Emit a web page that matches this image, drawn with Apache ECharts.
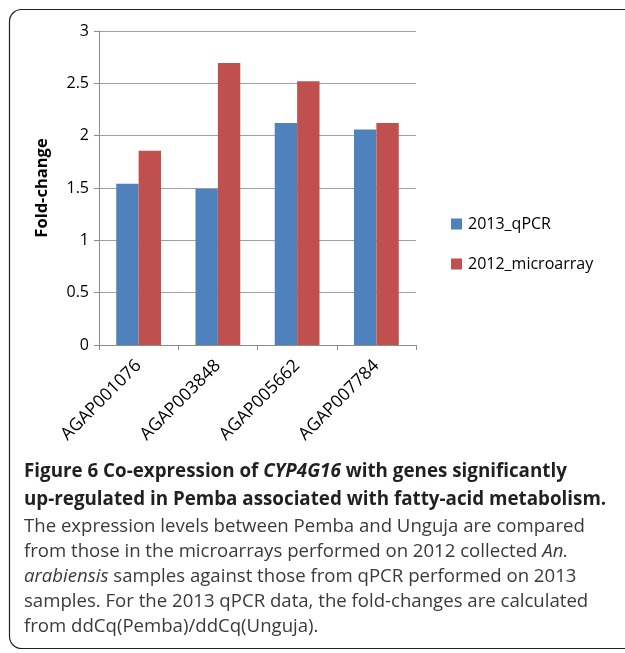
<!DOCTYPE html>
<html><head><meta charset="utf-8">
<script src="https://cdn.jsdelivr.net/npm/echarts@6/dist/echarts.min.js"></script>
<style>html,body{margin:0;padding:0;background:#fff}#c{width:625px;height:653px}</style>
</head><body><div id="c"></div>
<script>
const categories = ['AGAP001076', 'AGAP003848', 'AGAP005662', 'AGAP007784'];
const qpcr2013 = [1.54, 1.49, 2.12, 2.06];
const microarray2012 = [1.855, 2.695, 2.52, 2.12];
const seriesNames = ['2013_qPCR', '2012_microarray'];
const yTicks = [0, 0.5, 1, 1.5, 2, 2.5, 3];

const chart = echarts.init(document.getElementById('c'), null, {renderer: 'canvas'});
const F = 'Open Sans, Liberation Sans, sans-serif';
const capX = 24;
const BS = 18.8, NS = 18.6;
const capLines = [
  {base: 478, sz: BS, parts: [['b','Figure 6 Co-expression of '],['bi','CYP4G16'],['b',' with genes significantly']]},
  {base: 506, sz: BS, parts: [['b','up-regulated in Pemba associated with fatty-acid metabolism.']]},
  {base: 533, sz: NS, parts: [['n','The expression levels between Pemba and Unguja are compared']]},
  {base: 558, sz: NS, parts: [['n','from those in the microarrays performed on 2012 collected '],['i','An.']]},
  {base: 583, sz: NS, parts: [['i','arabiensis'],['n',' samples against those from qPCR performed on 2013']]},
  {base: 608, sz: NS, parts: [['n','samples. For the 2013 qPCR data, the fold-changes are calculated']]},
  {base: 633, sz: NS, parts: [['n','from ddCq(Pemba)/ddCq(Unguja).']]}
];
const rich = {
  b: {fontFamily: F, fontSize: BS, lineHeight: BS, fontWeight: 'bold', fill: '#231f20'},
  bi: {fontFamily: F, fontSize: BS, lineHeight: BS, fontWeight: 'bold', fontStyle: 'italic', fill: '#231f20'},
  n: {fontFamily: F, fontSize: NS, lineHeight: NS, fill: '#3a3a3a'},
  i: {fontFamily: F, fontSize: NS, lineHeight: NS, fontStyle: 'italic', fill: '#3a3a3a'}
};
const graphics = [{
  type: 'rect', shape: {x: 9.5, y: 9.5, width: 660, height: 639, r: 12},
  style: {fill: 'none', stroke: '#222', lineWidth: 1.2}, silent: true
}];
capLines.forEach(l => {
  graphics.push({
    type: 'text', x: capX, y: l.base - 0.32 * l.sz,
    style: {text: l.parts.map(p => '{' + p[0] + '|' + p[1] + '}').join(''), rich: rich,
            verticalAlign: 'middle', align: 'left'}
  });
});

chart.setOption({
  animation: false,
  backgroundColor: '#fff',
  grid: {left: 99, right: 209, top: 31, bottom: 308, containLabel: false},
  legend: {
    orient: 'vertical', left: 446, top: 211, itemGap: 24,
    itemWidth: 11, itemHeight: 11, icon: 'rect',
    textStyle: {fontFamily: F, fontSize: 16, color: '#000', padding: [0,0,0,1]},
    data: seriesNames
  },
  xAxis: {
    type: 'category', data: categories,
    axisLine: {lineStyle: {color: '#8c8c8c'}},
    axisTick: {show: true, length: 5, alignWithLabel: false, lineStyle: {color: '#8c8c8c'}},
    axisLabel: {rotate: 45, fontFamily: F, fontSize: 17.5, color: '#000', margin: 18, interval: 0}
  },
  yAxis: {
    type: 'value', min: 0, max: 3, interval: 0.5,
    name: 'Fold-change', nameLocation: 'middle', nameGap: 48,
    nameTextStyle: {fontFamily: F, fontSize: 16.5, fontWeight: 'bold', color: '#000'},
    axisLine: {show: true, lineStyle: {color: '#8c8c8c'}},
    axisTick: {show: true, length: 5, lineStyle: {color: '#8c8c8c'}},
    splitLine: {lineStyle: {color: '#a0a0a0'}},
    axisLabel: {fontFamily: F, fontSize: 16, color: '#000', margin: 10,
      formatter: v => yTicks.includes(v) ? String(v) : ''}
  },
  series: [
    {name: seriesNames[0], type: 'bar', data: qpcr2013, barGap: '0%', barCategoryGap: '43.5%',
     itemStyle: {color: '#4F81BD'}},
    {name: seriesNames[1], type: 'bar', data: microarray2012, barGap: '0%', barCategoryGap: '43.5%',
     itemStyle: {color: '#C0504D'}}
  ],
  graphic: graphics
});
</script></body></html>
